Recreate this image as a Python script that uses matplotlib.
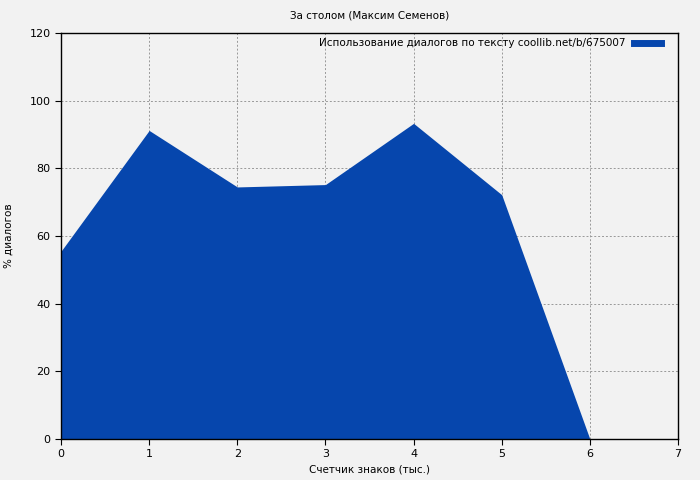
import matplotlib
matplotlib.use("Agg")
import matplotlib.pyplot as plt

x_values = [0, 1, 2, 3, 4, 5, 6]
y_values = [55.5, 91.2, 74.5, 75.2, 93.3, 72.2, 0]
x_ticks = [0, 1, 2, 3, 4, 5, 6, 7]
y_ticks = [0, 20, 40, 60, 80, 100, 120]

title = "За столом (Максим Семенов)"
series_label = "Использование диалогов по тексту coollib.net/b/675007"
xlabel = "Счетчик знаков (тыс.)"
ylabel = "% диалогов"

bg = "#f2f2f2"
fill_color = "#0646ad"

fig = plt.figure(figsize=(7, 4.8), dpi=100, facecolor=bg)
ax = fig.add_axes([61/700, 1 - 439/480, (678-61)/700, (439-33)/480])
ax.set_facecolor(bg)

ax.fill_between(x_values, y_values, 0, color=fill_color, linewidth=0, zorder=2)
ax.plot([], [], color=fill_color, linewidth=5, label=series_label)

ax.set_xlim(0, 7)
ax.set_ylim(0, 120)
ax.set_xticks(x_ticks)
ax.set_yticks(y_ticks)
ax.grid(True, color="#999999", linestyle=(0, (2, 2)), linewidth=0.7, zorder=1)
ax.set_axisbelow(True)
for s in ax.spines.values():
    s.set_linewidth(1.0)
    s.set_color("black")
    s.set_zorder(3)
ax.tick_params(direction="out", length=4, labelsize=8, colors="black")

cx = (61 + 678) / 2 / 700
fig.text(cx, 1 - 16/480, title, ha="center", va="center", fontsize=7.5)
fig.text(cx, 1 - 470/480, xlabel, ha="center", va="center", fontsize=7.5)
fig.text(9/700, 1 - 236/480, ylabel, ha="center", va="center", fontsize=7.5, rotation=90)

leg = ax.legend(loc="upper right", fontsize=7.5, frameon=False, markerfirst=False,
                handlelength=2.6, borderaxespad=0.3, bbox_to_anchor=(0.984, 1.005))

fig.savefig("out.png", dpi=100, facecolor=bg)
